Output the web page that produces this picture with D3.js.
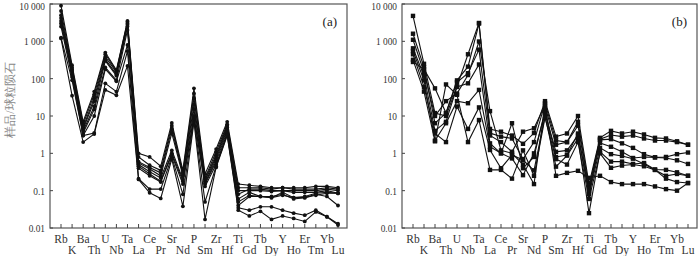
<!DOCTYPE html>
<html lang="en">
<head>
<meta charset="UTF-8">
<title>Spider diagrams</title>
<script src="https://d3js.org/d3.v7.min.js"></script>
<style>
  body { margin: 0; background: #fff; }
  text { font-family: "Liberation Serif", "Times New Roman", serif; }
</style>
</head>
<body>
<div id="chart"></div>
<script>
    // element order on the x axis
    var elements = ["Rb","K","Ba","Th","U","Nb","Ta","La","Ce","Pr","Sr","Nd","P","Sm","Zr","Hf","Ti","Gd","Tb","Dy","Y","Ho","Er","Tm","Yb","Lu"];
    var yTicks = [0.01, 0.1, 1, 10, 100, 1000, 10000];
    var yTickLabels = ["0.01", "0.1", "1", "10", "100", "1 000", "10 000"];
    var yTitle = "样品/球粒陨石";

    // panel (a) samples, chondrite normalised
    var a1 = [9000,230,7,45,500,170,3500,1.0,0.8,0.45,6.5,0.35,55,0.28,1.3,7,0.15,0.14,0.13,0.12,0.12,0.12,0.12,0.13,0.13,0.12];
    var a2 = [6500,200,6,38,450,160,3300,0.8,0.48,0.35,5.5,0.3,40,0.22,1.1,6,0.12,0.12,0.12,0.11,0.12,0.11,0.11,0.11,0.12,0.11];
    var a3 = [5000,180,5,30,380,150,3000,0.6,0.42,0.3,4.5,0.28,30,0.2,0.9,5.5,0.08,0.11,0.11,0.1,0.1,0.1,0.1,0.1,0.11,0.1];
    var a4 = [4200,160,4.5,25,330,130,2800,0.55,0.38,0.25,3.5,0.25,20,0.18,0.8,5,0.1,0.1,0.1,0.095,0.1,0.09,0.09,0.09,0.1,0.085];
    var a5 = [3500,150,4,18,300,120,2500,0.5,0.32,0.22,1.2,0.2,15,0.16,0.7,4.5,0.06,0.09,0.07,0.065,0.09,0.065,0.07,0.085,0.09,0.085];
    var a6 = [3000,130,3.5,15,200,90,2000,0.45,0.28,0.18,1.0,0.18,10,0.15,0.6,4,0.05,0.075,0.07,0.07,0.08,0.06,0.065,0.08,0.07,0.04];
    var a7 = [2500,110,3,10,180,85,800,0.4,0.25,0.17,0.9,0.15,9,0.13,0.5,3.5,0.04,0.07,0.07,0.065,0.075,0.065,0.065,0.075,0.085,0.085];
    var a8 = [1250,90,3,3.5,75,45,550,0.21,0.11,0.11,0.8,0.08,8,0.05,0.45,3.2,0.035,0.03,0.037,0.037,0.03,0.025,0.022,0.03,0.02,0.013];
    var a9 = [1200,35,2,3.3,50,36,220,0.2,0.088,0.062,0.7,0.038,7,0.017,0.42,3,0.03,0.021,0.028,0.017,0.021,0.018,0.015,0.027,0.02,0.012];

    // panel (b) samples
    var b1 = [4800,250,12,10,62,450,3100,4.5,3.8,3.0,1.8,3.5,25,2.8,3.4,10,0.15,2.6,4.0,3.4,3.8,3.2,2.6,2.5,2.1,1.7];
    var b2 = [1600,200,6.4,12,90,210,3000,3.5,2.8,2.5,0.7,2.0,22,2.2,2.0,7.0,0.12,2.4,3.1,2.8,3.0,2.5,2.2,2.2,2.0,1.7];
    var b3 = [1100,150,10,25,40,125,990,13.5,1.2,1.0,0.5,0.15,18,1.7,2.0,5.5,0.1,2.3,2.4,1.85,1.4,0.95,0.78,0.8,0.95,1.05];
    var b4 = [650,120,4,7,60,75,240,1.85,1.0,6.4,0.4,0.8,14,0.8,0.9,3.4,0.09,1.9,1.5,1.1,0.75,0.8,0.78,0.75,0.65,0.52];
    var b5 = [550,90,2.2,6.4,25,22,50,1.5,1.0,0.73,0.26,1.0,12,1.1,1.2,3.0,0.08,1.4,0.95,0.85,0.72,0.52,0.36,0.25,0.28,0.25];
    var b6 = [450,60,3.4,2.0,18,4.5,17,1.23,0.4,0.9,0.66,0.35,10,0.44,0.87,2.5,0.025,1.1,0.6,0.6,0.52,0.55,0.37,0.36,0.31,0.25];
    var b7 = [320,45,2.1,70,37,2.0,7.8,0.36,0.36,0.21,1.2,0.25,9,0.7,0.5,2.0,0.06,1.0,0.41,0.47,0.5,0.45,0.36,0.21,0.17,0.16];
    var b8 = [280,180,55,12,80,140,600,3.0,2.0,1.1,3.8,4.7,20,0.25,0.3,0.34,0.22,0.25,0.17,0.15,0.15,0.15,0.13,0.11,0.1,0.16];

    var seriesA = [a1,a2,a3,a4,a5,a6,a7,a8,a9];
    var seriesB = [b1,b2,b3,b4,b5,b6,b7,b8];

    var svg = d3.select("#chart")
        .append("svg")
            .attr("width", 700)
            .attr("height", 256);

    function createPanel(box, series, marker, tag, showTitle) {
        var x = d3.scalePoint()
            .domain(elements)
            .range([box.left + 11, box.right - 9]);
        var y = d3.scaleLog()
            .domain([0.01, 10000])
            .range([box.bottom, box.top]);

        var g = svg.append("g");

        // frame
        g.append("rect")
            .attr("x", box.left)
            .attr("y", box.top)
            .attr("width", box.right - box.left)
            .attr("height", box.bottom - box.top)
            .attr("fill", "none")
            .attr("stroke", "#555")
            .attr("stroke-width", 1.2);

        // bottom ticks, pointing inward
        g.selectAll("line.xt")
            .data(elements)
            .enter()
            .append("line")
                .attr("x1", function (d) { return x(d); })
                .attr("x2", function (d) { return x(d); })
                .attr("y1", box.bottom)
                .attr("y2", box.bottom - 4)
                .attr("stroke", "#444")
                .attr("stroke-width", 1);

        g.selectAll("text.xl")
            .data(elements)
            .enter()
            .append("text")
                .attr("x", function (d) { return x(d); })
                .attr("y", function (d, i) { return i % 2 == 0 ? 243 : 254; })
                .attr("text-anchor", "middle")
                .attr("font-size", 11.5)
                .attr("fill", "#333")
                .text(function (d) { return d; });

        // left ticks
        g.selectAll("line.yt")
            .data(yTicks)
            .enter()
            .append("line")
                .attr("x1", box.left)
                .attr("x2", box.left + 3)
                .attr("y1", function (d) { return y(d); })
                .attr("y2", function (d) { return y(d); })
                .attr("stroke", "#444");

        // top label pushed down a little so it stays inside the page
        g.selectAll("text.yl")
            .data(yTicks)
            .enter()
            .append("text")
                .attr("transform", function (d) {
                    var yy = Math.max(y(d) + 4, 10);
                    return "translate(" + (box.left - 5) + "," + yy + ") scale(0.85,1)";
                })
                .attr("text-anchor", "end")
                .attr("font-size", 11)
                .attr("fill", "#333")
                .text(function (d, i) { return yTickLabels[i]; });

        if (showTitle) {
            g.append("text")
                .attr("transform", "translate(14,100) rotate(-90)")
                .attr("text-anchor", "middle")
                .attr("font-family", "Noto Sans CJK SC")
                .attr("font-size", 12)
                .attr("fill", "#888")
                .text(yTitle);
        }

        g.append("text")
            .attr("x", box.right - 10)
            .attr("y", 26)
            .attr("text-anchor", "end")
            .attr("font-size", 13)
            .attr("fill", "#222")
            .text(tag);

        var line = d3.line()
            .x(function (d, i) { return x(elements[i]); })
            .y(function (d) { return y(d); });

        series.forEach(function (s) {
            g.append("path")
                .datum(s)
                .attr("d", line)
                .attr("fill", "none")
                .attr("stroke", "#111")
                .attr("stroke-width", 1.1);

            if (marker == "circle") {
                g.selectAll(null)
                    .data(s)
                    .enter()
                    .append("circle")
                        .attr("cx", function (d, i) { return x(elements[i]); })
                        .attr("cy", function (d) { return y(d); })
                        .attr("r", 1.9)
                        .attr("fill", "#111");
            } else {
                g.selectAll(null)
                    .data(s)
                    .enter()
                    .append("rect")
                        .attr("x", function (d, i) { return x(elements[i]) - 2.2; })
                        .attr("y", function (d) { return y(d) - 2.2; })
                        .attr("width", 4.4)
                        .attr("height", 4.4)
                        .attr("fill", "#111");
            }
        });
    }

    createPanel({left: 50, right: 347, top: 4, bottom: 228}, seriesA, "circle", "(a)", true);
    createPanel({left: 402, right: 697, top: 4, bottom: 228}, seriesB, "square", "(b)", false);
</script>
</body>
</html>
